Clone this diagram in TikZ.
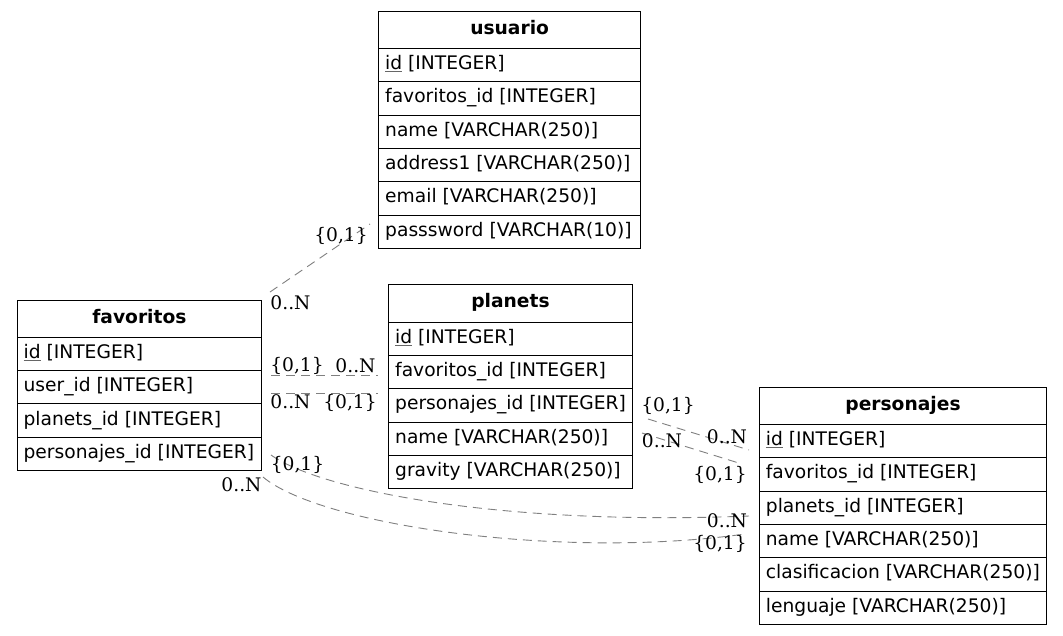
\documentclass[tikz,border=0pt]{standalone}
\usepackage{fontspec}
\setmainfont{DejaVu Sans}
\newfontfamily\lblfont{DejaVu Serif}
\usetikzlibrary{calc}
\definecolor{relgray}{RGB}{128,128,128}
\newcommand\tabfont{\fontsize{18.67}{22}\selectfont}
\newcommand\keyfield[1]{{\color{black!60}\underline{\color{black}#1}}}
\tikzset{
  cellbox/.style={draw=black, line width=1pt, rectangle, inner sep=0pt, anchor=north west},
  rowtext/.style={anchor=base west, inner sep=0pt, font=\tabfont},
  titletext/.style={anchor=base, inner sep=0pt, font=\tabfont\bfseries},
  rel/.style={draw=relgray, line width=0.9pt, dash pattern=on 9pt off 6pt},
  card/.style={font=\tabfont\lblfont, inner sep=0pt, anchor=center},
}
\newcommand\ertable[6]{%
  \node[cellbox, minimum width=#4pt, minimum height=37.3pt] (#1) at (#2,#3) {};
  \node[titletext] (#1-title) at ($(#1.center)+(0,4.5)$) {#5};
  \foreach \r [count=\i] in {#6} {%
    \node[cellbox, minimum width=#4pt, minimum height=33.3pt] (#1-\i) at (#2,{#3+37.3+(\i-1)*33.3}) {};
    \node[rowtext] (#1-\i-text) at ($(#1-\i.west)+(6.7,4.5)$) {\r};
  }%
}
\begin{document}
\begin{tikzpicture}[x=1pt,y=-1pt]
\useasboundingbox (0,0) rectangle (1063,635);
\fill[white] (0,0) rectangle (1063,635);

\ertable{usuario}{378.3}{10.7}{261.7}{usuario}{\keyfield{id} [INTEGER],favoritos\_id [INTEGER],name [VARCHAR(250)],address1 [VARCHAR(250)],email [VARCHAR(250)],passsword [VARCHAR(10)]}
\ertable{planets}{388.3}{284.3}{243.4}{planets}{\keyfield{id} [INTEGER],favoritos\_id [INTEGER],personajes\_id [INTEGER],name [VARCHAR(250)],gravity [VARCHAR(250)]}
\ertable{favoritos}{16.7}{299.5}{244.4}{favoritos}{\keyfield{id} [INTEGER],user\_id [INTEGER],planets\_id [INTEGER],personajes\_id [INTEGER]}
\ertable{personajes}{759}{386.7}{287}{personajes}{\keyfield{id} [INTEGER],favoritos\_id [INTEGER],planets\_id [INTEGER],name [VARCHAR(250)],clasificacion [VARCHAR(250)],lenguaje [VARCHAR(250)]}

% connector end points
\coordinate (f-top) at (270,292);
\coordinate (u-pw) at (370,224);
\coordinate (f-u) at (271,375);
\coordinate (p-f) at (378,375);
\coordinate (f-p) at (271,393.3);
\coordinate (p-fb) at (378,393.3);
\coordinate (p-pa) at (648,419);
\coordinate (c-id) at (749,450);
\coordinate (p-pb) at (642,433);
\coordinate (c-fav) at (742,464);
\coordinate (f-ca) at (271,455);
\coordinate (c-na) at (749,516);
\coordinate (f-cb) at (263,477);
\coordinate (c-nb) at (745,534);

\draw[rel] (f-top) -- (u-pw);
\draw[rel] (f-u) -- (p-f);
\draw[rel] (f-p) -- (p-fb);
\draw[rel] (p-pa) -- (c-id);
\draw[rel] (p-pb) -- (c-fav);
\draw[rel] (f-ca) .. controls (320,490) and (500,526) .. (c-na);
\draw[rel] (f-cb) .. controls (320,525) and (560,560) .. (c-nb);

% cardinality labels
\node[card] (l1) at (341,236) {\{0,1\}};
\node[card] (l2) at (290.5,303) {0..N};
\node[card] (l3) at (297,366) {\{0,1\}};
\node[card] (l4) at (355.5,366) {0..N};
\node[card] (l5) at (290.5,402) {0..N};
\node[card] (l6) at (350,403) {\{0,1\}};
\node[card] (l7) at (668,406) {\{0,1\}};
\node[card] (l8) at (662,441) {0..N};
\node[card] (l9) at (727,437) {0..N};
\node[card] (l10) at (720,475) {\{0,1\}};
\node[card] (l11) at (297.5,465) {\{0,1\}};
\node[card] (l12) at (241.5,485) {0..N};
\node[card] (l13) at (727,521) {0..N};
\node[card] (l14) at (720,544) {\{0,1\}};
\end{tikzpicture}
\end{document}
